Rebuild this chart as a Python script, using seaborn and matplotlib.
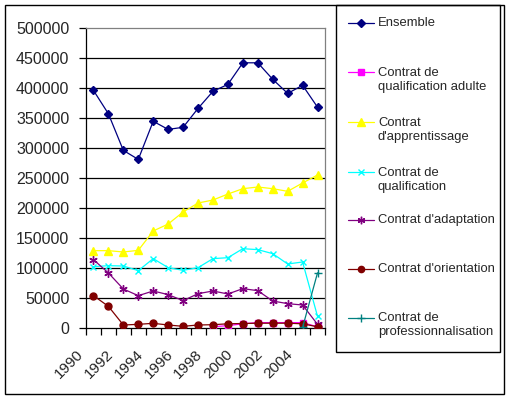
import numpy as np
import pandas as pd
import matplotlib
matplotlib.use('Agg')
import matplotlib.pyplot as plt
import matplotlib.transforms as mtransforms
from matplotlib.lines import Line2D
from matplotlib.patches import Rectangle
import seaborn as sns

years = list(range(1990, 2006))

ensemble = [396000, 357000, 296000, 281000, 344500, 331000, 334500, 366000,
            394500, 406000, 442000, 442000, 414500, 391000, 404500, 368000]
qualif_adulte = [np.nan] * 8 + [2000, 4000, 7000, 9000, 9000, 9000, 9000, 2000]
apprentissage = [128900, 128900, 126700, 129400, 161700, 173300, 193300, 208300,
                 213300, 223300, 232200, 235000, 232200, 227800, 241700, 255000]
qualification = [102200, 103900, 103300, 95600, 115600, 100600, 96100, 100600,
                 115600, 117200, 132200, 130600, 123900, 106700, 110000, 19400]
adaptation = [113900, 91700, 65000, 53900, 61700, 55600, 45600, 57200,
              61700, 56700, 65600, 62200, 45000, 40600, 38300, 6100]
orientation = [53900, 36100, 5000, 6100, 7800, 5000, 2800, 5000,
               5500, 7000, 7500, 8000, 8000, 8000, 7000, 2000]
professionnalisation = [np.nan] * 14 + [1000, 92000]

labels = ["Ensemble", "Contrat de\nqualification adulte", "Contrat\nd'apprentissage",
          "Contrat de\nqualification", "Contrat d'adaptation", "Contrat d'orientation",
          "Contrat de\nprofessionnalisation"]
series = [ensemble, qualif_adulte, apprentissage, qualification, adaptation,
          orientation, professionnalisation]
colors = ['#000080', '#FF00FF', '#FFFF00', '#00FFFF', '#800080', '#800000', '#008080']
markers = ['D', 's', '^', 'x', (6, 2, 0), 'o', '+']
msizes = [4.5, 5, 6, 5, 6, 5, 6]

sns.set_style('white')
plt.rcParams['font.family'] = ['Liberation Sans', 'DejaVu Sans']

fig = plt.figure(figsize=(5.1, 3.99), dpi=100)
W, H = 510, 399
ax = fig.add_axes([86 / W, 1 - 328 / H, (325 - 86) / W, (328 - 28) / H])

ax.set_ylim(0, 500000)
ax.set_xlim(1989.5, 2005.5)
ax.yaxis.set_major_locator(matplotlib.ticker.MultipleLocator(50000))
for yv in range(50000, 500000, 50000):
    ax.axhline(yv, color='black', lw=0.9, zorder=0)

for vals, lab, c, m, ms in zip(series, labels, colors, markers, msizes):
    df = pd.DataFrame({'annee': years, 'val': vals}).dropna()
    filled = m in ('D', 's', '^', 'o')
    sns.lineplot(data=df, x='annee', y='val', ax=ax, color=c, lw=0.9,
                 marker=m, markersize=ms, markeredgecolor=c,
                 markerfacecolor=c if filled else 'none', markeredgewidth=1.0,
                 label=None, legend=False, zorder=3)

ax.set_xlabel('')
ax.set_ylabel('')

for s in ['top', 'right']:
    ax.spines[s].set_color('#808080')
    ax.spines[s].set_linewidth(0.9)
for s in ['left', 'bottom']:
    ax.spines[s].set_color('black')
    ax.spines[s].set_linewidth(0.9)

# y ticks
ax.tick_params(axis='y', direction='out', length=5, width=0.9, color='black',
               labelsize=11.5, pad=7, left=True)
ax.yaxis.set_major_formatter(matplotlib.ticker.FuncFormatter(lambda v, _: f'{v:.0f}'))

# x: ticks between categories, labels every other year
ax.set_xticks([1989.5 + k for k in range(17)])
ax.set_xticklabels([])
ax.tick_params(axis='x', which='major', direction='out', length=5, width=0.9,
               color='black', bottom=True)
ax.set_xticks(years[::2], minor=True)
ax.set_xticklabels([str(y) for y in years[::2]], minor=True, rotation=45,
                   ha='right', va='top', fontsize=11)
ax.tick_params(axis='x', which='minor', length=0, pad=14)
offset = mtransforms.ScaledTranslation(-7.5 / 100, 0, fig.dpi_scale_trans)
for t in ax.xaxis.get_minorticklabels():
    t.set_transform(t.get_transform() + offset)

# outer border
fig.add_artist(Rectangle((5 / W, 1 - 394 / H), 499 / W, 389 / H, transform=fig.transFigure,
                         fill=False, edgecolor='black', lw=1.0))
# legend box
fig.add_artist(Rectangle((336 / W, 1 - 352 / H), 164 / W, 347 / H, transform=fig.transFigure,
                         fill=False, edgecolor='black', lw=1.0))
ys = [23, 72, 122, 172, 219.5, 268.5, 317.5]
for yv, lab, c, m, ms in zip(ys, labels, colors, markers, msizes):
    filled = m in ('D', 's', '^', 'o')
    yf = 1 - yv / H
    fig.add_artist(Line2D([348 / W, 374 / W], [yf, yf], transform=fig.transFigure,
                          color=c, lw=0.9))
    fig.add_artist(Line2D([361 / W], [yf], transform=fig.transFigure, color=c,
                          marker=m, markersize=ms * 0.9, markeredgecolor=c,
                          markerfacecolor=c if filled else 'none', markeredgewidth=1.0))
    fig.text(378 / W, 1 - (yv - 5.5) / H, lab, fontsize=9.4, va='top', ha='left',
             linespacing=1.25)

fig.savefig('out.png', dpi=100)
